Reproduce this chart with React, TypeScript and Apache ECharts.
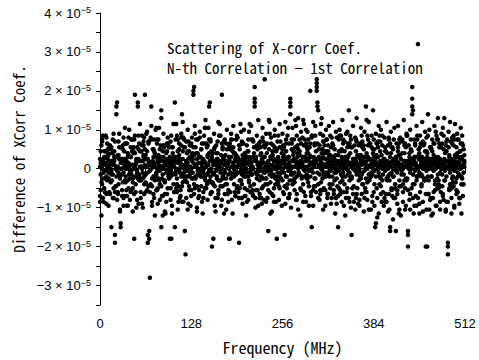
import React, { useEffect, useRef } from "react";
import * as echarts from "echarts";

// Frequency axis (MHz)
const freqTicks = [0, 128, 256, 384, 512];
// y tick labels in units of 1e-5
const yTickLabels = [-3, -2, -1, 0, 1, 2, 3, 4];
// values below are in units of 0.5e-6
const valueUnit = 5e-7;

// Difference of XCorr coefficient, index = frequency bin (MHz)
const diffN2 = [
  5,-11,-24,15,3,-17,9,-5,17,-13,1,10,-19,4,12,-7,
  -30,8,-15,18,2,-34,-9,28,6,-13,14,-3,-21,-28,11,5,
  -7,16,-14,21,0,-11,13,-19,7,20,-5,-12,15,2,-22,9,
  -36,17,-8,4,-16,32,10,-6,23,-15,1,12,-20,7,16,38,
  -12,5,19,-34,-9,14,-56,3,22,-17,10,-4,15,-24,6,-11,
  13,-18,4,21,-8,1,26,-14,9,18,-6,-22,12,3,-13,16,
  -4,11,-36,14,-2,-19,8,23,-12,34,5,-10,17,-21,6,13,
  -15,3,18,-9,24,-17,11,-32,1,14,-7,20,-18,9,-3,12,
  -11,16,5,38,-13,22,-4,8,-20,15,0,-14,19,6,-9,13,
  -23,4,17,-10,25,-3,11,-16,21,32,-7,14,-12,-40,8,2,
  18,-9,-22,12,5,-15,24,1,-6,17,-19,38,10,-5,14,-13,
  7,-21,20,3,-11,-36,13,-2,18,-16,9,22,-8,4,-14,15,
  1,16,-12,-38,10,23,-6,14,-18,5,20,-10,8,-24,12,3,
  -16,19,6,-9,22,-3,15,-14,11,32,-20,4,17,-11,25,1,
  -13,14,8,-18,21,-5,12,46,-8,18,3,-15,-32,10,24,-7,
  16,-22,7,12,-10,20,1,-17,-36,14,5,-9,23,-2,11,-19,
  18,6,-13,-34,24,9,-4,17,-15,13,2,28,-20,10,21,-6,
  15,-11,4,22,-16,12,26,-3,9,-24,19,1,16,-8,23,6,
  -14,20,11,-5,15,-19,7,40,3,-30,17,24,-9,13,22,-12,
  42,34,30,5,-16,18,-7,26,10,-21,14,2,-11,20,8,-15,
  12,22,-4,7,-18,16,1,24,-13,10,-23,19,4,-9,-30,15,
  20,-7,9,-17,25,3,-12,14,-24,18,6,-10,13,30,-2,17,
  -20,-34,11,22,-9,5,16,-15,26,1,-18,12,7,-4,21,-13,
  14,3,-22,19,-10,32,8,-16,12,24,-6,5,-21,17,-3,30,
  -12,10,-30,18,7,-25,14,22,-8,1,20,-17,12,4,-19,16,
  9,-13,24,3,-22,15,-6,-30,19,11,-14,-26,5,21,-10,-32,
  13,-18,22,7,-9,16,-24,1,14,-12,25,8,-21,4,18,-5,
  -32,12,-16,20,2,-10,28,30,-23,15,6,-14,22,-4,64,10,
  -18,17,4,-8,24,-22,12,1,19,-13,9,-40,28,-6,20,-16,
  11,-24,15,3,-12,22,6,-19,17,-5,26,-10,13,-21,4,18,
  -9,21,-16,26,8,-22,14,1,-40,19,-11,24,5,-15,16,-7,
  12,-20,23,6,-13,18,-2,15,-18,9,21,-8,17,-14,10,4,
];

const diffN3 = [
  -14,3,12,-8,17,-2,-10,9,6,-18,13,1,7,-12,2,0,
  11,-6,8,-15,4,14,-9,32,-1,-12,7,18,-4,-30,5,-11,
  10,-19,2,13,-7,4,-14,6,16,-3,-16,11,-1,9,-10,8,
  15,38,-12,5,-2,-3,-18,13,4,-6,9,17,-5,12,-13,2,
  7,-8,9,-38,14,3,-12,16,32,-9,1,10,-15,8,-4,21,
  -11,5,15,-6,10,4,30,-5,-14,12,2,-7,-23,8,13,-10,
  1,-3,6,-16,-36,11,4,-8,3,-30,15,-1,-12,9,-17,10,
  5,-14,12,2,-7,16,-2,11,-44,4,-4,9,14,-11,0,-19,
  13,-5,8,40,7,-10,11,2,-9,-1,-15,6,16,-4,10,-1,
  3,-12,4,21,-6,13,-8,7,-2,15,34,-13,9,6,-7,-36,
  4,11,-15,2,-4,8,-11,17,0,-6,3,13,-9,5,-23,15,
  -8,4,10,-13,3,12,-36,11,-5,15,-3,2,8,-12,7,-2,
  17,-9,5,12,-10,4,-1,-15,13,2,-4,8,-14,6,3,-11,
  9,-6,23,-2,15,1,-13,6,-8,34,5,-11,12,-3,-1,13,
  -15,7,2,-10,4,14,-16,11,0,-5,13,-8,2,25,-12,6,
  5,-13,9,1,-17,11,4,-4,10,-6,17,3,-10,14,-2,8,
  -6,12,11,-9,2,15,-10,5,6,-15,1,32,-3,13,-8,7,
  9,-7,25,4,-13,8,10,-2,15,2,-11,4,6,-17,12,1,
  -4,13,-5,19,8,-9,11,2,-12,16,3,-11,6,-5,17,9,
  44,32,-8,10,12,-13,5,1,-11,14,-3,8,-19,9,15,-2,
  -13,6,5,-10,11,0,-8,12,2,-6,7,-15,16,3,-14,9,
  2,-11,17,10,-4,13,1,-8,6,-15,4,11,-3,7,-17,8,
  15,-5,3,-13,4,12,-21,9,14,-10,2,-1,-16,5,7,-3,
  11,-8,12,3,-12,6,25,-7,15,-5,5,13,-2,4,-14,10,
  7,-8,4,-28,13,-15,11,2,-4,14,-9,7,17,-12,1,5,
  -17,9,0,-6,12,-13,3,-32,8,-10,11,-4,15,2,-15,4,
  6,-11,9,13,-21,7,2,-3,15,-8,1,12,-10,11,-6,17,
  -34,4,8,-13,10,3,32,-8,5,-19,12,0,-6,15,-15,7,
  8,-12,13,2,-4,14,5,-6,9,-40,16,6,-13,3,-21,11,
  1,-4,9,-15,7,13,-8,19,2,-10,15,-6,11,5,-12,3,
  13,-14,10,2,-6,12,-17,4,-44,11,7,-8,14,-10,5,0,
  -9,15,2,-7,11,8,-12,3,4,-15,13,6,-5,12,-8,7,
];

const diffN4 = [
  1,-3,4,0,-5,2,6,-1,3,-4,0,5,-2,1,-6,3,
  -1,4,-3,2,6,-38,0,-4,34,1,-2,5,-5,3,0,-3,
  4,-2,1,5,-4,0,2,-6,3,1,-1,6,-3,2,-5,0,
  2,-4,0,3,-1,34,5,-3,1,-6,4,0,-2,6,-4,1,
  -3,5,1,-2,4,-32,-1,3,0,-5,2,6,-4,1,3,-2,
  0,3,-5,2,-1,6,-30,1,-3,4,0,-6,2,-2,5,-1,
  3,-1,4,-4,0,2,-3,5,1,-2,6,0,-5,3,-1,4,
  -2,1,-4,28,5,-3,0,2,-6,4,-1,3,1,-4,6,-2,
  0,4,-2,3,42,1,-5,2,5,-3,0,6,-1,3,-4,1,
  5,-2,0,-5,3,1,-3,6,2,-1,4,-4,0,5,-2,3,
  -3,2,4,-1,0,5,-6,3,1,-2,4,0,-4,6,2,-1,
  3,-5,1,2,-3,0,4,-2,6,1,-4,3,0,-1,5,-3,
  1,4,-2,3,-6,2,0,-3,5,-1,3,1,-4,0,6,-2,
  -4,2,5,-1,3,-3,1,0,4,36,-2,6,-5,2,0,3,
  2,-1,-4,5,0,3,-2,6,1,-5,3,-1,4,0,-3,2,
  -1,5,2,-3,4,0,-5,1,3,-2,6,2,-4,1,0,4,
  3,0,-2,4,1,-4,5,2,-1,3,-6,34,0,4,-3,1,
  5,-2,1,3,-4,6,0,2,-3,4,1,-5,3,0,6,-1,
  0,4,-3,1,5,-1,2,-4,6,0,3,-2,4,1,-5,3,
  46,-2,5,1,-3,4,0,3,-1,6,-4,2,5,-2,1,3,
  -3,5,0,2,-1,6,-4,1,3,-2,4,0,-5,3,2,-1,
  4,1,-3,6,0,-2,3,5,-4,1,0,4,-1,2,-6,3,
  1,-4,3,0,5,2,-1,4,-3,6,1,-2,0,3,-5,2,
  -2,3,6,-1,2,-5,4,0,1,-3,5,2,-4,1,3,0,
  5,-1,2,-4,3,0,6,-2,1,4,-5,2,0,-3,5,1,
  -1,3,-5,4,0,2,-3,6,1,-2,3,0,-4,5,2,-1,
  4,-2,0,3,-6,1,5,-1,2,0,-3,4,1,-5,3,2,
  -40,1,4,-2,5,0,36,-3,2,6,-1,3,-4,1,0,5,
  -2,6,1,-3,4,0,2,-5,3,1,-1,5,-4,2,0,3,
  1,-4,5,2,-1,3,-6,0,4,2,-3,1,5,-2,3,0,
  -3,2,0,5,-1,4,-4,1,-38,3,6,-2,0,4,-5,1,
  3,-1,4,0,-5,2,1,6,-3,0,2,-4,5,1,-2,3,
];

const diffN5 = [
  -17,9,-7,14,-15,5,3,-12,2,16,-6,8,-5,12,-13,10,
  -3,4,15,-10,9,-12,6,1,-16,7,-8,11,-22,5,0,-14,
  12,-15,9,-6,13,3,-19,8,-10,2,-2,6,-11,15,-7,11,
  -13,8,2,-20,11,-5,17,-4,9,-12,1,-18,4,14,-8,10,
  -7,18,-11,5,13,-36,2,-8,15,-19,4,-13,9,-6,20,-3,
  15,-10,7,1,-16,12,-9,0,-24,6,11,-13,4,-17,9,-1,
  13,-5,2,-10,17,-23,11,6,-12,4,-3,23,-8,15,-9,7,
  0,-11,16,-17,9,-4,15,-6,2,-15,8,-21,5,-9,12,1,
  -14,7,-5,11,-8,18,1,15,-22,8,3,-11,6,-2,10,-17,
  5,-15,13,-4,21,-10,2,12,-7,8,-6,15,0,-12,4,-8,
  10,-19,3,8,-5,14,-13,2,23,-9,7,-16,11,-3,6,-2,
  4,13,-8,2,-17,6,10,-12,15,1,-23,11,-4,8,-14,7,
  -10,6,2,-15,12,-6,19,-8,7,13,-2,-14,4,3,-17,9,
  15,-7,5,-12,1,0,-11,14,8,42,-15,4,-3,10,-19,12,
  -6,11,-15,4,16,-9,6,-2,12,-17,8,2,-11,1,18,-23,
  13,-4,7,-14,5,17,-8,9,0,3,-7,-16,11,2,-5,4,
  10,-12,7,5,-18,13,1,-8,21,6,-13,36,-2,15,-6,9,
  4,-5,11,-16,17,3,-21,8,7,-10,13,2,-4,25,-12,15,
  6,-17,8,10,-7,4,-1,13,-14,17,3,-19,2,12,-9,5,
  40,13,-15,6,2,-11,23,8,-5,17,-10,12,1,-4,15,-13,
  9,3,-8,17,4,-15,13,6,-11,5,0,-2,-18,2,7,-10,
  17,-13,4,3,-6,15,-19,9,2,0,-12,19,6,-15,13,-4,
  11,1,-10,5,-17,4,2,15,-13,7,2,-6,-19,13,3,17,
  -8,4,10,-15,0,2,-12,17,6,-21,13,1,-4,11,-17,8,
  15,-19,5,2,-10,13,0,-23,17,9,-13,4,-6,1,2,-15,
  11,2,-17,8,-4,16,-21,13,3,-11,4,10,-15,0,-8,6,
  2,-13,11,-23,15,1,-9,0,8,-17,4,-6,13,-19,17,3,
  -11,0,6,-21,15,9,42,-15,4,-8,13,2,-19,17,-4,1,
  -23,11,2,-9,6,-17,0,13,-6,4,-21,8,17,-13,2,5,
  -15,10,0,-23,13,4,-11,2,-19,15,6,-8,3,-17,11,0,
  2,-13,17,-6,4,-21,9,15,-17,0,-10,5,2,-23,13,-4,
  17,-19,7,3,-11,15,-4,2,-15,9,0,-23,13,-8,4,1,
];

const seriesNames = ["2nd - 1st", "3rd - 1st", "4th - 1st", "5th - 1st"];
const seriesValues = [diffN2, diffN3, diffN4, diffN5];

const titleLines = ["Scattering of X-corr Coef.", "N-th Correlation − 1st Correlation"];

export default function App() {
  const ref = useRef<HTMLDivElement>(null);
  useEffect(() => {
    if (!ref.current) return;
    const chart = echarts.init(ref.current, undefined, { renderer: "svg" });
    const tickFont = "'Liberation Sans', Arial, sans-serif";
    const jpFont = "'Noto Sans Mono CJK JP', 'Noto Sans CJK JP', sans-serif";
    chart.setOption({
      animation: false,
      backgroundColor: "#fff",
      grid: { left: 100, right: 14, top: 13, bottom: 53 },
      xAxis: {
        type: "value",
        min: 0,
        max: 512,
        interval: 64,
        axisLine: { show: true, lineStyle: { color: "#000", width: 1 } },
        axisTick: { show: true, inside: false, length: 4, lineStyle: { color: "#000" } },
        splitLine: { show: false },
        axisLabel: {
          color: "#000",
          fontSize: 13,
          fontFamily: tickFont,
          margin: 12,
          formatter: (v: number) => (freqTicks.includes(v) ? String(v) : ""),
        },
        name: "Frequency (MHz)",
        nameLocation: "middle",
        nameGap: 34,
        nameTextStyle: { color: "#000", fontSize: 16, fontFamily: jpFont },
      },
      yAxis: {
        type: "value",
        min: -3.5e-5,
        max: 4e-5,
        interval: 5e-6,
        axisLine: { show: true, lineStyle: { color: "#000", width: 1 } },
        axisTick: { show: true, inside: false, length: 4, lineStyle: { color: "#000" } },
        splitLine: { show: false },
        axisLabel: {
          color: "#000",
          margin: 9,
          fontSize: 13,
          fontFamily: tickFont,
          formatter: (v: number) => {
            const k = Math.round(v / 1e-6);
            if (k % 10 !== 0) return "";
            const n = k / 10;
            if (!yTickLabels.includes(n)) return "";
            if (n === 0) return "{b|0}";
            const s = (n < 0 ? "−" : "") + Math.abs(n);
            return `{b|${s} × 10}{s|−5}`;
          },
          rich: {
            b: { fontSize: 13, fontFamily: tickFont, color: "#000" },
            s: { fontSize: 9, fontFamily: tickFont, color: "#000", verticalAlign: "top", padding: [0, 0, 6, 0] },
          },
        },
        name: "Difference of XCorr Coef.",
        nameLocation: "middle",
        nameGap: 68,
        nameTextStyle: { color: "#000", fontSize: 15, fontFamily: jpFont },
      },
      graphic: [
        {
          type: "text",
          left: 167,
          top: 37,
          style: {
            text: titleLines.join("\n"),
            fill: "#000",
            fontSize: 15,
            lineHeight: 20,
            fontFamily: jpFont,
          },
        },
      ],
      series: seriesValues.map((arr, si) => ({
        name: seriesNames[si],
        type: "scatter",
        symbol: "circle",
        symbolSize: 4.5,
        clip: false,
        itemStyle: { color: "#000", opacity: 1 },
        data: arr.map((v, i) => [i, v * valueUnit]),
      })),
    });
    return () => chart.dispose();
  }, []);
  return (
    <div
      ref={ref}
      style={{ position: "fixed", left: 0, top: 0, width: 479, height: 360 }}
    />
  );
}
